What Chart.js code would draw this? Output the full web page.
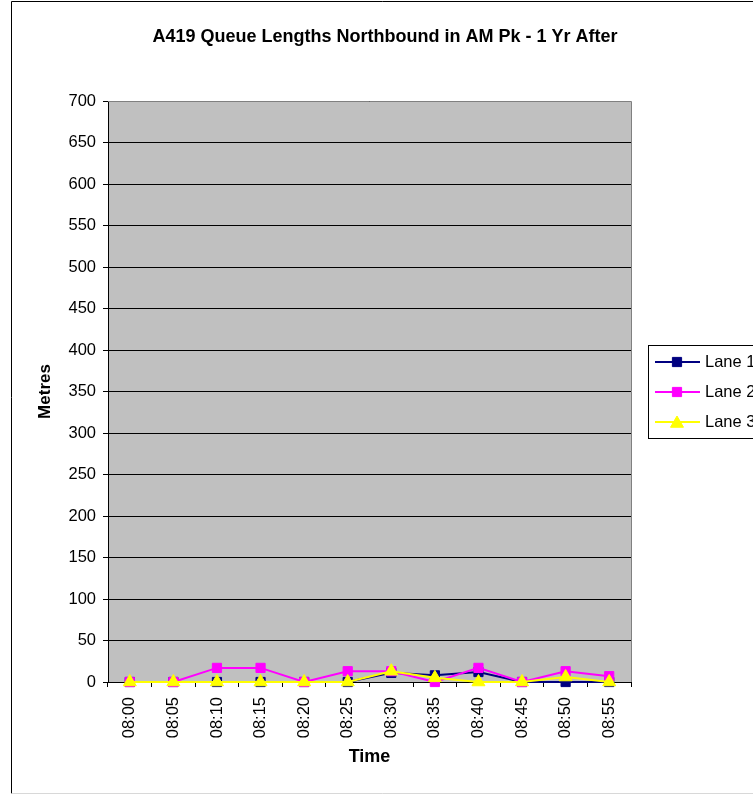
<!DOCTYPE html>
<html>
<head>
<meta charset="utf-8">
<script src="https://cdn.jsdelivr.net/npm/chart.js@4/dist/chart.umd.min.js"></script>
<style>
  html, body { margin: 0; padding: 0; background: #ffffff; }
  #wrap { width: 753px; height: 794px; position: relative; overflow: hidden; }
</style>
</head>
<body>
<div id="wrap"><canvas id="c" width="753" height="794"></canvas></div>
<script>
// Queue lengths (metres) per 5-minute interval, northbound AM peak
const chartTitle = 'A419 Queue Lengths Northbound in AM Pk - 1 Yr After';
const times = ['08:00', '08:05', '08:10', '08:15', '08:20', '08:25',
               '08:30', '08:35', '08:40', '08:45', '08:50', '08:55'];
const lane1 = [0, 0, 0, 0, 0, 0, 11, 8, 12, 0, 0, 0];
const lane2 = [0, 0, 17, 17, 0, 13, 13, 0, 17, 0, 13, 7];
const lane3 = [0, 0, 0, 0, 0, 0, 13, 5, 0, 0, 6, 0];
const seriesNames = ['Lane 1', 'Lane 2', 'Lane 3'];
const yMin = 0, yMax = 700, yStep = 50;

const FONT = '"Liberation Sans", Arial, sans-serif';

// Plot background, borders, title and boxed legend
const decor = {
  id: 'decor',
  beforeDraw(chart) {
    const { ctx, chartArea: a } = chart;
    ctx.save();
    ctx.fillStyle = '#ffffff';
    ctx.fillRect(0, 0, chart.width, chart.height);
    ctx.fillStyle = '#c0c0c0';
    ctx.fillRect(a.left, a.top, a.right - a.left, a.bottom - a.top);
    ctx.restore();
  },
  beforeDatasetsDraw(chart) {
    const { ctx, chartArea: a } = chart;
    ctx.save();
    ctx.strokeStyle = '#808080';
    ctx.lineWidth = 1;
    ctx.beginPath();
    ctx.moveTo(a.left, a.top + 0.5);
    ctx.lineTo(a.right + 0.5, a.top + 0.5);
    ctx.lineTo(a.right + 0.5, a.bottom);
    ctx.stroke();
    ctx.restore();
  },
  afterDraw(chart) {
    const { ctx } = chart;
    ctx.save();
    // chart frame
    ctx.strokeStyle = '#000000';
    ctx.lineWidth = 1;
    ctx.beginPath();
    ctx.moveTo(chart.width + 5, 1.5);
    ctx.lineTo(11.5, 1.5);
    ctx.lineTo(11.5, 793.5);
    ctx.stroke();
    ctx.strokeStyle = '#d8d8d8';
    ctx.beginPath();
    ctx.moveTo(11.5, 793.5);
    ctx.lineTo(chart.width + 5, 793.5);
    ctx.stroke();

    // title
    ctx.fillStyle = '#000000';
    ctx.font = 'bold 18px ' + FONT;
    ctx.textAlign = 'center';
    ctx.textBaseline = 'middle';
    ctx.fillText(chartTitle, 385, 37);

    // legend
    const lx = 648.5, ly = 345.5, lh = 93;
    ctx.strokeStyle = '#000000';
    ctx.lineWidth = 1;
    ctx.strokeRect(lx, ly, 140, lh);
    ctx.font = '16.5px ' + FONT;
    ctx.textAlign = 'left';
    ctx.textBaseline = 'middle';
    chart.data.datasets.forEach((ds, i) => {
      const y = 362 + i * 30;
      ctx.strokeStyle = ds.borderColor;
      ctx.lineWidth = 2;
      ctx.beginPath();
      ctx.moveTo(655, y);
      ctx.lineTo(700, y);
      ctx.stroke();
      ctx.fillStyle = ds.pointBackgroundColor;
      ctx.strokeStyle = ds.pointBorderColor;
      ctx.lineWidth = 1;
      Chart.helpers.drawPoint(ctx, {
        pointStyle: ds.pointStyle, rotation: 0,
        radius: ds.pointRadius, borderWidth: 1
      }, 677, ds.pointStyle === 'triangle' ? y + 1.5 : y);
      ctx.fillStyle = '#000000';
      ctx.fillText(ds.label, 705, y);
    });
    ctx.restore();
  }
};

new Chart(document.getElementById('c'), {
  type: 'line',
  data: {
    labels: times,
    datasets: [
      {
        label: seriesNames[0], data: lane1, order: 2,
        borderColor: '#000080', borderWidth: 2,
        pointStyle: 'rect', pointRadius: 6.5,
        pointBackgroundColor: '#000080', pointBorderColor: '#000080', pointBorderWidth: 1,
        tension: 0, clip: false
      },
      {
        label: seriesNames[1], data: lane2, order: 1,
        borderColor: '#ff00ff', borderWidth: 2,
        pointStyle: 'rect', pointRadius: 6.5,
        pointBackgroundColor: '#ff00ff', pointBorderColor: '#ff00ff', pointBorderWidth: 1,
        tension: 0, clip: false
      },
      {
        label: seriesNames[2], data: lane3, order: 0,
        borderColor: '#ffff00', borderWidth: 2,
        pointStyle: 'triangle', pointRadius: 7.5,
        pointBackgroundColor: '#ffff00', pointBorderColor: '#ffff00', pointBorderWidth: 1,
        tension: 0, clip: false
      }
    ]
  },
  options: {
    responsive: false,
    animation: false,
    devicePixelRatio: 1,
    layout: { padding: { left: 0, top: 101, right: 122, bottom: 0 } },
    plugins: {
      legend: { display: false },
      title: { display: false },
      tooltip: { enabled: false }
    },
    scales: {
      x: {
        type: 'category',
        offset: true,
        grid: {
          display: true, drawOnChartArea: false, drawTicks: true,
          tickLength: 5, color: '#000000', offset: true, lineWidth: 1
        },
        border: { display: true, color: '#000000', width: 1 },
        ticks: {
          autoSkip: false, minRotation: 90, maxRotation: 90,
          padding: 10, color: '#000000',
          font: { family: FONT, size: 16.5 }
        },
        title: {
          display: true, text: 'Time', color: '#000000',
          font: { family: FONT, size: 18, weight: 'bold' },
          padding: { top: 0, bottom: 26 }
        },
        afterFit(scale) { scale.height = 112; }
      },
      y: {
        min: yMin, max: yMax,
        grid: { color: '#000000', tickLength: 5, lineWidth: 1 },
        border: { display: true, color: '#000000', width: 1 },
        ticks: {
          stepSize: yStep, padding: 7, color: '#000000',
          font: { family: FONT, size: 16.5 }
        },
        title: {
          display: true, text: 'Metres', color: '#000000',
          font: { family: FONT, size: 17, weight: 'bold' },
          padding: { top: 35, bottom: 0 }
        },
        afterFit(scale) { scale.width = 108; }
      }
    }
  },
  plugins: [decor]
});
</script>
</body>
</html>
